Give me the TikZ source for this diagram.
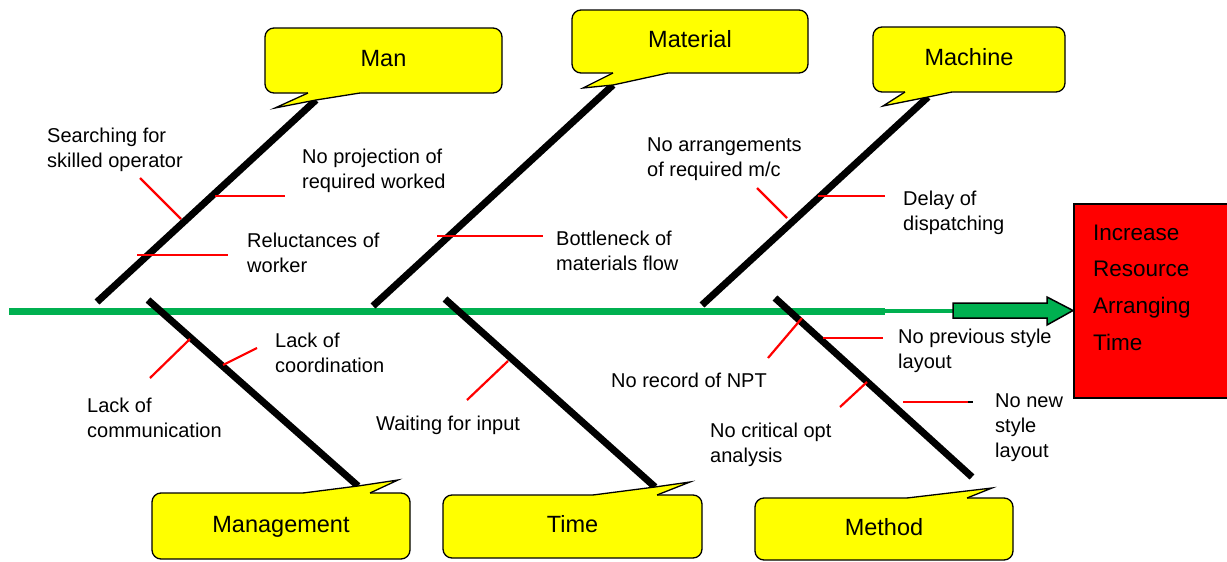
\documentclass[tikz,border=0pt]{standalone}
\usepackage{fontspec}
\setmainfont{Liberation Sans}
\definecolor{spinegreen}{RGB}{0,176,80}
\definecolor{callfill}{RGB}{255,255,0}
\begin{document}
\begin{tikzpicture}[x=1pt,y=-1pt,
  bone/.style={line width=7pt, black},
  cause/.style={line width=2.2pt, red},
  lbl/.style={anchor=north west, inner sep=0pt, align=left, font=\fontsize{20}{25}\selectfont},
  callbox/.style={draw=black, line width=1.3pt, fill=callfill, rounded corners=9pt, inner sep=0pt,
    text height=17pt, text depth=5pt, font=\fontsize{23.5}{28}\selectfont},
  tailfill/.style={fill=callfill},
  tailline/.style={draw=black, line width=1.3pt, line join=miter}]

\useasboundingbox (0,0) rectangle (1227,562);

% spine
\draw[spinegreen, line width=7pt] (9,311.5) -- (885,311.5);
\draw[spinegreen, line width=4pt] (885,311) -- (954,311);

% bone end coordinates
\coordinate (manA) at (97,302);    \coordinate (manN) at (316,100);
\coordinate (matA) at (373,306);   \coordinate (matN) at (613,85);
\coordinate (macA) at (702,305);   \coordinate (macN) at (928,97);
\coordinate (mgtA) at (148,300);   \coordinate (mgtN) at (358,486);
\coordinate (timA) at (445,299);   \coordinate (timN) at (655,487);
\coordinate (metA) at (775,298);   \coordinate (metN) at (972,477);

% bones
\draw[bone] (manA) -- (manN);
\draw[bone] (matA) -- (matN);
\draw[bone] (macA) -- (macN);
\draw[bone] (mgtA) -- (mgtN);
\draw[bone] (timA) -- (timN);
\draw[bone] (metA) -- (metN);

% causes
\draw[cause] (140,178) -- (181,219);
\draw[cause] (215,196) -- (285,196);
\draw[cause] (137,255) -- (228,255);
\draw[cause] (437,236) -- (543,236);
\draw[cause] (757,188) -- (787,218);
\draw[cause] (818,196) -- (885,196);
\draw[cause] (150,378) -- (190,339);
\draw[cause] (223,365) -- (257,348);
\draw[cause] (467,400) -- (508,361);
\draw[cause] (768,358) -- (802,318);
\draw[cause] (823,338) -- (883,338);
\draw[cause] (840,407) -- (867,382);
\draw[cause] (903,402) -- (968,402);
\draw[black, line width=2.2pt] (968,402) -- (973,402);

% effect box and arrow
\node[draw=black, line width=2pt, fill=red, minimum width=160pt, minimum height=194pt,
  anchor=north west, inner sep=0pt] (effect) at (1073,203) {};
\node[anchor=north west, inner sep=0pt, align=left, font=\fontsize{22.5}{36.7}\selectfont]
  (effecttext) at (1093,224.5) {Increase\\Resource\\Arranging\\Time};
\filldraw[fill=spinegreen, draw=black, line width=1.5pt, line join=miter]
  (953,303) -- (1047,303) -- (1047,297) -- (effect.west |- 0,310.5) -- (1047,325) -- (1047,318) -- (953,318) -- cycle;

% callouts (top)
\node[callbox, minimum width=237pt, minimum height=65pt] (man) at (383.5,60.5) {Man};
\fill[tailfill] (308,91) -- (308,93) -- (275,108) -- (manN) -- (360,93) -- (360,91) -- cycle;
\draw[tailline] (308,93) -- (275,108) -- (manN) -- (360,93);

\node[callbox, minimum width=236pt, minimum height=63pt] (material) at (690,41.5) {Material};
\fill[tailfill] (613,71) -- (613,73) -- (583,88) -- (matN) -- (668,73) -- (668,71) -- cycle;
\draw[tailline] (613,73) -- (583,88) -- (matN) -- (668,73);

\node[callbox, minimum width=192pt, minimum height=65pt] (machine) at (969,59.5) {Machine};
\fill[tailfill] (905,90) -- (905,92) -- (883,106) -- (macN) -- (952,92) -- (952,90) -- cycle;
\draw[tailline] (905,92) -- (883,106) -- (macN) -- (952,92);

% callouts (bottom)
\node[callbox, minimum width=258pt, minimum height=66pt] (management) at (281,526) {Management};
\fill[tailfill] (303,495) -- (303,493) -- (mgtN) -- (398,480) -- (370,493) -- (370,495) -- cycle;
\draw[tailline] (303,493) -- (mgtN) -- (398,480) -- (370,493);

\node[callbox, minimum width=259pt, minimum height=63pt] (time) at (572.5,526.5) {Time};
\fill[tailfill] (593,497) -- (593,495) -- (timN) -- (690,482) -- (657,495) -- (657,497) -- cycle;
\draw[tailline] (593,495) -- (timN) -- (690,482) -- (657,495);

\node[callbox, minimum width=258pt, minimum height=62pt] (method) at (884,529) {Method};
\fill[tailfill] (907,500) -- (907,498) -- (992,488) -- (967,498) -- (967,500) -- cycle;
\draw[tailline] (907,498) -- (992,488) -- (967,498);

% labels
\node[lbl] (l1) at (47,127.5) {Searching for\\skilled operator};
\node[lbl] (l2) at (302,148.5) {No projection of\\required worked};
\node[lbl] (l3) at (247,232.5) {Reluctances of\\worker};
\node[lbl] (l4) at (556,230.5) {Bottleneck of\\materials flow};
\node[lbl] (l5) at (647,137.5) {No arrangements\\of required m/c};
\node[lbl] (l6) at (903,190.5) {Delay of\\dispatching};
\node[lbl] (l7) at (87,397.5) {Lack of\\communication};
\node[lbl] (l8) at (275,332.5) {Lack of\\coordination};
\node[lbl] (l9) at (376,415.5) {Waiting for input};
\node[lbl] (l10) at (611,372.5) {No record of NPT};
\node[lbl] (l11) at (898,328.5) {No previous style\\layout};
\node[lbl] (l12) at (710,422.5) {No critical opt\\analysis};
\node[lbl] (l13) at (995,393.5) {No new\\style\\layout};
\end{tikzpicture}
\end{document}
